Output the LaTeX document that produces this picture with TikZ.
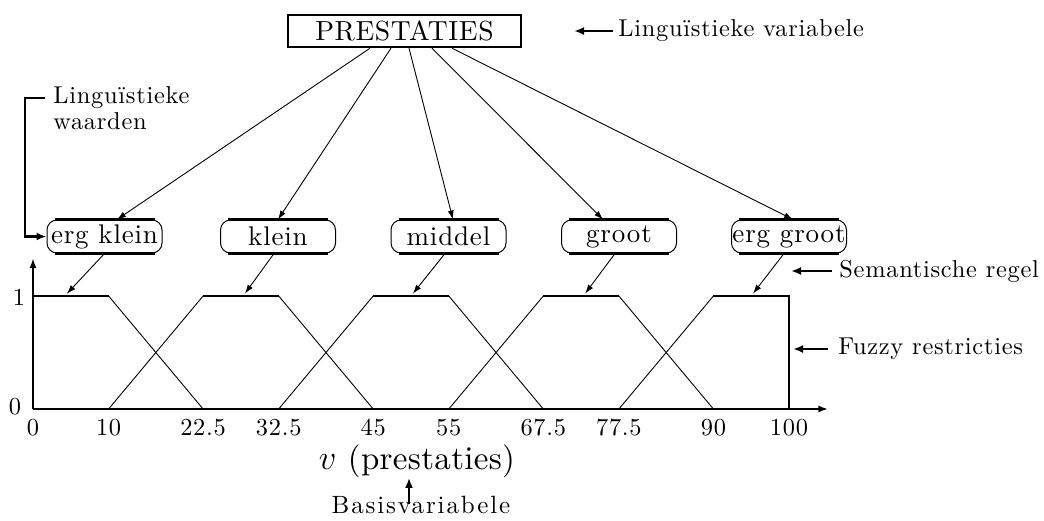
\documentclass[tikz,border=0pt]{standalone}
\usepackage{fontspec}
\setmainfont{lmroman10-regular.otf}[ItalicFont=lmroman10-italic.otf, BoldFont=lmroman10-bold.otf]
\usetikzlibrary{arrows.meta}
\begin{document}
\begin{tikzpicture}[x=0.5pt,y=-0.5pt,
  lab/.style={inner sep=0pt, font=\fontsize{12.2}{13}\selectfont\addfontfeatures{LetterSpace=3}},
  lv/.style={draw, line width=0.5pt, rounded corners=5pt, minimum width=57.5pt, minimum height=16.5pt, inner sep=0pt, font=\fontsize{13.5}{14}\selectfont\addfontfeatures{LetterSpace=3}},
  thinarrow/.style={line width=0.45pt, -{Latex[length=4.5pt,width=3pt]}},
  labelarrow/.style={line width=1.2pt, -{Latex[length=5pt,width=4pt]}},
  heavy/.style={line width=1.1pt},
  slope/.style={line width=0.45pt}]
\useasboundingbox (0,0) rectangle (1044,520);

% linguistic variable
\node[draw, line width=1.2pt, minimum width=116.5pt, minimum height=16pt, inner sep=0pt, font=\fontsize{13.8}{14}\selectfont\addfontfeatures{LetterSpace=2}] (P) at (404.5,31) {PRESTATIES};

% linguistic values
\node[lv] (ek) at (104.5,236.5) {erg klein};
\node[lv] (kl) at (278,236.5) {klein};
\node[lv] (mi) at (448.5,236.5) {middel};
\node[lv] (gr) at (619,236.5) {groot};
\node[lv] (eg) at (789,236.5) {erg groot};
\foreach \n in {ek,kl,mi,gr,eg}{
  \draw[line width=1.2pt] ([xshift=4pt]\n.north west) -- ([xshift=-4pt]\n.north east);
  \draw[line width=1.2pt] ([xshift=4pt]\n.south west) -- ([xshift=-4pt]\n.south east);
}

% connectors from variable to values
\draw[thinarrow] ([xshift=-17.25pt]P.south) -- ([xshift=6.25pt]ek.north);
\draw[thinarrow] ([xshift=-6.75pt]P.south) -- (kl.north);
\draw[thinarrow] ([xshift=2.25pt]P.south) -- ([xshift=2.25pt]mi.north);
\draw[thinarrow] ([xshift=13.75pt]P.south) -- ([xshift=-8pt]gr.north);
\draw[thinarrow] ([xshift=23.75pt]P.south) -- ([xshift=2pt]eg.north);

% axes and membership functions
\begin{scope}[shift={(33,409)}, x=3.78pt, y=56.5pt]
  \draw[heavy, -{Latex[length=5pt,width=3.5pt]}] (0,0) -- (105.2,0);
  \draw[heavy, -{Latex[length=5pt,width=3.5pt]}] (0,0) -- (0,1.336);
  \draw[heavy] (0,1) -- (10,1);
  \draw[slope] (10,1) -- (22.5,0);
  \draw[slope] (10,0) -- (22.5,1);
  \draw[heavy] (22.5,1) -- (32.5,1);
  \draw[slope] (32.5,1) -- (45,0);
  \draw[slope] (32.5,0) -- (45,1);
  \draw[heavy] (45,1) -- (55,1);
  \draw[slope] (55,1) -- (67.5,0);
  \draw[slope] (55,0) -- (67.5,1);
  \draw[heavy] (67.5,1) -- (77.5,1);
  \draw[slope] (77.5,1) -- (90,0);
  \draw[slope] (77.5,0) -- (90,1);
  \draw[heavy] (90,1) -- (100,1) -- (100,0);
  \coordinate (t1) at (4.2,1);
  \coordinate (t2) at (27.8,1);
  \coordinate (t3) at (50,1);
  \coordinate (t4) at (72.8,1);
  \coordinate (t5) at (95,1);
  \foreach \v [count=\i] in {0,10,22.5,32.5,45,55,67.5,77.5,90,100}
    \node[lab, anchor=north] (tk\i) at ([yshift=-5pt]\v,0) {\v};
\end{scope}
\node[lab] (y1) at (19,297) {1};
\node[lab] (y0) at (15,407) {0};

% semantic rule connectors
\draw[thinarrow, shorten >=1.5pt] (ek.south) -- (t1);
\draw[thinarrow, shorten >=1.5pt] ([xshift=-2pt]kl.south) -- (t2);
\draw[thinarrow, shorten >=1.5pt] ([xshift=-1.75pt]mi.south) -- (t3);
\draw[thinarrow, shorten >=1.5pt] ([xshift=-2pt]gr.south) -- (t4);
\draw[thinarrow, shorten >=1.5pt] ([xshift=-2.5pt]eg.south) -- (t5);

% annotations
\node[lab, anchor=west] (lvar) at (618,31) {Linguïstieke variabele};
\coordinate (lvartip) at (574,31);
\draw[labelarrow] ([xshift=-2.5pt]lvar.west) -- (lvartip);

\node[lab, anchor=north west, align=left] (lw) at (53,86) {Linguïstieke\\waarden};
\draw[labelarrow] ([shift={(-4pt,-6pt)}]lw.north west) -- ++(-20,0) |- (ek.west);

\node[lab, anchor=west] (sem) at (839,271) {Semantische regel};
\coordinate (semtip) at (791,271);
\draw[labelarrow] ([xshift=-3.5pt]sem.west) -- (semtip);

\node[lab, anchor=west] (fuz) at (838,349) {Fuzzy restricties};
\coordinate (fuztip) at (793,349);
\draw[labelarrow] ([xshift=-5pt]fuz.west) -- (fuztip);

\node[lab, font=\fontsize{16.5}{17}\selectfont\addfontfeatures{LetterSpace=1}] (vl) at (417,461) {$v$ (prestaties)};
\node[lab, font=\fontsize{12.5}{13}\selectfont\addfontfeatures{LetterSpace=7.5}] (bv) at (421,505) {Basisvariabele};
\draw[labelarrow] ([xshift=-6pt,yshift=-4pt]bv.north) -- ([xshift=-6pt]bv.north |- vl.south);
\end{tikzpicture}
\end{document}
